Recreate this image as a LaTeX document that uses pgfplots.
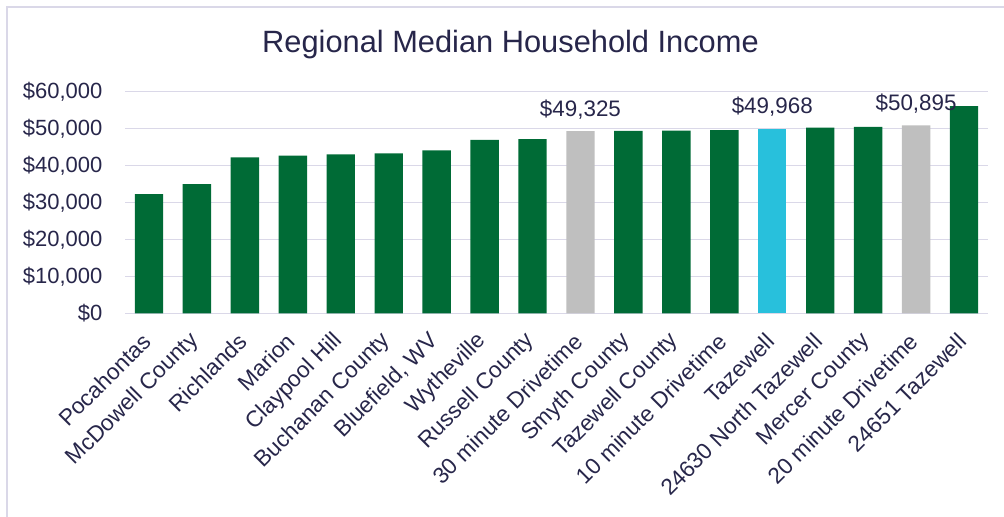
\documentclass[border=0pt]{standalone}
\usepackage{pgfplots}
\pgfplotsset{compat=1.18}
\usepackage{fontspec}
\setmainfont{Liberation Sans}
\definecolor{txt}{HTML}{27264A}
\definecolor{grid}{HTML}{DAD8E8}
\definecolor{gr}{HTML}{006B36}
\definecolor{gy}{HTML}{BFBFBF}
\definecolor{cy}{HTML}{28C0DC}
\begin{document}
\begin{tikzpicture}
\useasboundingbox (0,0) rectangle (502pt,258.5pt);
\draw[grid, line width=0.8pt] (3.5pt,0) -- (3.5pt,255pt) -- (502pt,255pt);
\node[anchor=base, text=txt, font=\fontsize{15.4}{18}\selectfont] at (255.25pt,232pt) {Regional Median Household Income};
\begin{axis}[
  at={(62.5pt,101.75pt)}, anchor=south west,
  scale only axis, width=431.5pt, height=110.9pt,
  xmin=-0.5, xmax=17.5, ymin=0, ymax=60000,
  scaled y ticks=false,
  axis x line*=bottom, axis y line*=left,
  y axis line style={draw=none},
  x axis line style={draw=grid, line width=0.8pt},
  major tick length=0pt,
  ymajorgrids, grid style={draw=grid, line width=0.6pt},
  ytick={0,10000,20000,30000,40000,50000,60000},
  yticklabels={{\$0},{\$10,000},{\$20,000},{\$30,000},{\$40,000},{\$50,000},{\$60,000}},
  yticklabel style={text=txt, font=\fontsize{11}{13}\selectfont, xshift=-7.8pt},
  xtick={0,...,17},
  xticklabels={Pocahontas,McDowell County,Richlands,Marion,Claypool Hill,Buchanan County,{Bluefield, WV},Wytheville,Russell County,30 minute Drivetime,Smyth County,Tazewell County,10 minute Drivetime,Tazewell,24630 North Tazewell,Mercer County,20 minute Drivetime,24651 Tazewell},
  xticklabel style={text=txt, font=\fontsize{11.3}{13}\selectfont, xshift=1.5pt, yshift=-9.5pt, rotate=45, anchor=east},
  ybar, bar width=14.2pt, bar shift=0pt,
  clip=false,
]
\addplot[fill=gr, draw=none] coordinates {(0,32300)(1,35000)(2,42250)(3,42700)(4,43050)(5,43300)(6,44100)(7,47000)(8,47200)(10,49400)(11,49450)(12,49600)(14,50270)(15,50500)(17,56100)};
\addplot[fill=gy, draw=none, point meta=explicit symbolic, nodes near coords,
  every node near coord/.append style={anchor=base, yshift=7.5pt, text=txt, font=\fontsize{11.2}{13}\selectfont}]
  coordinates {(9,49325)[\$49,325] (16,50895)[\$50,895]};
\addplot[fill=cy, draw=none, point meta=explicit symbolic, nodes near coords,
  every node near coord/.append style={anchor=base, yshift=7.5pt, text=txt, font=\fontsize{11.2}{13}\selectfont}]
  coordinates {(13,49968)[\$49,968]};
\end{axis}
\end{tikzpicture}
\end{document}
